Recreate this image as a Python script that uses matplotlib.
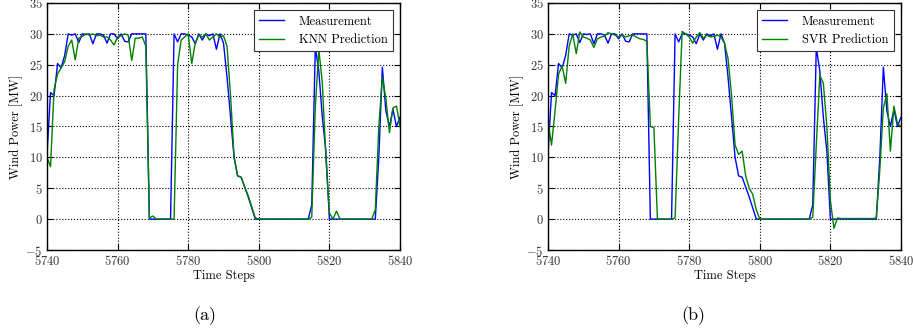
import numpy as np
import matplotlib
matplotlib.use('Agg')
import matplotlib.pyplot as plt

plt.rcParams['font.family'] = 'serif'
plt.rcParams['font.serif'] = ['cmr10']
plt.rcParams['mathtext.fontset'] = 'cm'
plt.rcParams['axes.formatter.use_mathtext'] = True
plt.rcParams['axes.unicode_minus'] = True

# time axis
steps = np.arange(5740, 5841)

# measured wind power (MW)
measurement = [
    10.5, 20.5, 20.0, 25.2, 24.5, 26.5, 30.0, 29.8, 30.0, 28.6,   # 5740-5749
    30.0, 29.9, 30.0, 28.4, 30.0, 30.0, 29.8, 28.5, 30.0, 30.0,   # 5750-5759
    29.2, 30.0, 28.8, 28.7, 30.0, 30.0, 30.0, 30.0, 30.0, 0.0,    # 5760-5769
    0.0, 0.0, 0.0, 0.0, 0.0, 0.0, 30.0, 28.7, 30.0, 30.0,         # 5770-5779
    29.8, 29.5, 28.4, 30.0, 29.0, 30.0, 29.7, 30.0, 27.5, 30.0,   # 5780-5789
    28.5, 23.0, 16.5, 10.0, 7.0, 6.8, 5.2, 3.6, 1.8, 0.0,         # 5790-5799
    0.0, 0.0, 0.0, 0.0, 0.0, 0.0, 0.0, 0.0, 0.0, 0.0,             # 5800-5809
    0.0, 0.0, 0.0, 0.0, 0.0, 2.3, 27.8, 24.0, 16.5, 11.0,         # 5810-5819
    0.0, 0.0, 0.0, 0.0, 0.0, 0.0, 0.0, 0.0, 0.0, 0.0,             # 5820-5829
    0.0, 0.0, 0.0, 0.0, 10.0, 24.6, 17.5, 15.0, 17.8, 15.0,       # 5830-5839
    16.5,                                                          # 5840
]

# KNN prediction
knn_pred = [
    10.0, 8.5, 21.0, 23.5, 24.5, 25.5, 28.0, 29.0, 25.8, 29.3,    # 5740-5749
    29.6, 30.0, 29.8, 30.0, 29.7, 29.8, 29.5, 29.5, 29.0, 28.2,   # 5750-5759
    29.5, 29.7, 30.0, 29.8, 25.7, 29.3, 29.3, 29.5, 28.0, 0.2,    # 5760-5769
    0.5, 0.0, 0.0, 0.0, 0.0, 0.0, 0.0, 25.0, 29.0, 29.5,          # 5770-5779
    30.0, 25.2, 28.5, 29.8, 29.5, 30.0, 29.0, 29.5, 30.0, 29.5,   # 5780-5789
    29.7, 28.0, 20.0, 10.0, 7.0, 6.8, 5.2, 3.8, 2.0, 0.2,         # 5790-5799
    0.0, 0.0, 0.0, 0.0, 0.0, 0.0, 0.0, 0.0, 0.0, 0.0,             # 5800-5809
    0.0, 0.0, 0.0, 0.0, 0.0, 0.3, 18.0, 27.5, 22.0, 10.0,         # 5810-5819
    1.0, 0.0, 1.3, 0.0, 0.0, 0.0, 0.0, 0.0, 0.0, 0.0,             # 5820-5829
    0.0, 0.0, 0.0, 1.5, 15.0, 23.0, 19.5, 14.0, 18.0, 18.3,       # 5830-5839
    15.0,                                                          # 5840
]

# SVR prediction
svr_pred = [
    16.0, 12.0, 17.5, 23.5, 24.8, 22.0, 28.0, 30.0, 26.8, 30.3,   # 5740-5749
    29.5, 29.3, 29.0, 27.8, 29.2, 29.5, 29.6, 30.2, 30.0, 29.8,   # 5750-5759
    29.5, 29.8, 29.5, 29.7, 29.8, 29.5, 29.2, 29.1, 28.8, 15.0,   # 5760-5769
    14.8, 0.0, 0.0, 0.0, 0.0, 0.0, 0.2, 16.0, 30.4, 30.0,         # 5770-5779
    29.5, 28.5, 29.5, 30.2, 29.3, 29.8, 29.5, 29.6, 29.8, 29.5,   # 5780-5789
    28.5, 26.0, 20.0, 12.0, 10.5, 11.0, 7.0, 5.0, 4.0, 1.5,       # 5790-5799
    0.0, 0.0, 0.0, 0.0, 0.0, 0.0, 0.0, 0.0, 0.0, 0.0,             # 5800-5809
    0.0, 0.0, 0.0, 0.0, 0.0, 0.3, 12.0, 23.3, 22.0, 15.0,         # 5810-5819
    3.0, -1.5, 0.2, 0.1, 0.1, 0.1, 0.1, 0.1, 0.1, 0.1,            # 5820-5829
    0.1, 0.1, 0.1, 0.2, 8.0, 18.0, 20.3, 11.0, 18.3, 15.5,        # 5830-5839
    15.0,                                                          # 5840
]

panels = [('KNN Prediction', knn_pred, '(a)'), ('SVR Prediction', svr_pred, '(b)')]
lefts = [47 / 913, 548 / 913]
tag_x = [205 / 913, 693 / 913]

fig = plt.figure(figsize=(9.13, 3.33), dpi=100)

for (name, pred, tag), left, tx in zip(panels, lefts, tag_x):
    ax = fig.add_axes([left, 83 / 333, 353 / 913, 247 / 333])
    ax.plot(steps, measurement, color='#0000ff', lw=1.0, label='Measurement')
    ax.plot(steps, pred, color='#008000', lw=1.0, label=name)
    ax.set_xlim(5740, 5840)
    ax.set_ylim(-5, 35)
    ax.set_xticks(np.arange(5740, 5841, 20))
    ax.set_yticks(np.arange(-5, 36, 5))
    ax.grid(True, color='black', linestyle=':', linewidth=0.8)
    ax.tick_params(direction='in', top=True, right=True, labelsize=9, pad=3,
                   length=4, labelcolor='#333333')
    for s in ax.spines.values():
        s.set_linewidth(1.0)
    ax.set_xlabel('Time Steps', fontsize=9, labelpad=1)
    ax.set_ylabel('Wind Power [MW]', fontsize=9, labelpad=2)
    leg = ax.legend(loc='upper right', fontsize=9, fancybox=False,
                    framealpha=1, edgecolor='#333333', handlelength=2.0,
                    handletextpad=1.2, borderaxespad=0.6)
    leg.get_frame().set_linewidth(0.8)
    fig.text(tx, 17 / 333, tag, ha='center', va='center', fontsize=13)

plt.savefig('out.png', dpi=100)
